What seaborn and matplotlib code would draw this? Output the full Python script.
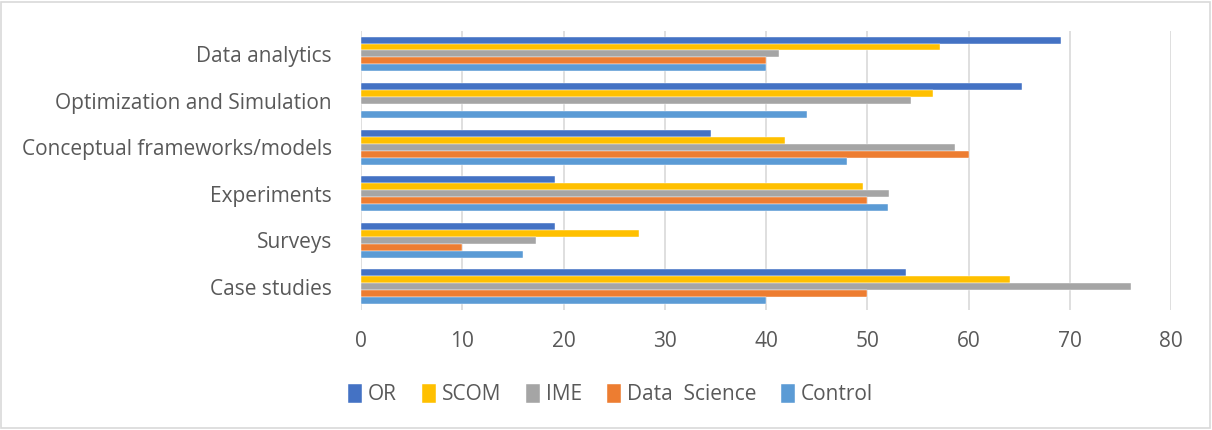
import matplotlib.pyplot as plt
from matplotlib.patches import Rectangle
import seaborn as sns
import pandas as pd
import numpy as np


categories = ['Data analytics', 'Optimization and Simulation', 'Conceptual frameworks/models',
              'Experiments', 'Surveys', 'Case studies']
series = ['OR', 'SCOM', 'IME', 'Data  Science', 'Control']

or_vals = [69.1, 65.3, 34.6, 19.2, 19.2, 53.8]
scom_vals = [57.2, 56.5, 41.9, 49.6, 27.5, 64.1]
ime_vals = [41.3, 54.3, 58.7, 52.1, 17.3, 76.0]
ds_vals = [40.0, np.nan, 60.0, 50.0, 10.0, 50.0]
control_vals = [40.0, 44.0, 48.0, 52.0, 16.0, 40.0]

colors = ['#4472C4', '#FFC000', '#A5A5A5', '#ED7D31', '#5B9BD5']
text_color = '#595959'


def make_df():
    rows = []
    for s, vals in zip(series, [or_vals, scom_vals, ime_vals, ds_vals, control_vals]):
        for c, v in zip(categories, vals):
            rows.append({'category': c, 'series': s, 'value': v})
    return pd.DataFrame(rows)


def bar_chart(df):
    sns.set_style('white')
    plt.rcParams['font.family'] = ['Open Sans', 'DejaVu Sans']

    fig = plt.figure(figsize=(12.12, 4.3), dpi=100)
    ax = fig.add_axes([0.2979, 0.279, 0.6683, 0.6496])

    sns.barplot(data=df, y='category', x='value', hue='series', order=categories,
                hue_order=series, palette=colors, saturation=1, orient='h', width=0.75,
                edgecolor='white', linewidth=0.3, ax=ax)

    ax.set_xlim(0, 80)
    ax.set_ylim(5.5, -0.5)
    ax.set_xticks(range(0, 81, 10))
    ax.grid(axis='x', color='#D9D9D9', linewidth=1.2)
    ax.set_axisbelow(True)
    for sp in ax.spines.values():
        sp.set_visible(False)
    ax.set_xlabel('')
    ax.set_ylabel('')
    ax.tick_params(axis='both', length=0, labelsize=15, colors=text_color)
    ax.tick_params(axis='x', pad=15)
    ax.tick_params(axis='y', pad=21)

    # legend centred on the whole figure, below the ticks
    handles, labels = ax.get_legend_handles_labels()
    ax.get_legend().remove()
    fig.legend(handles, labels, loc='center', bbox_to_anchor=(0.504, 0.082), ncol=5,
               frameon=False, fontsize=15, handlelength=0.65, handleheight=1.0,
               handletextpad=0.3, columnspacing=1.2, labelcolor=text_color)

    # chart border
    fig.patches.append(Rectangle((0.001, 0.004), 0.997, 0.992, transform=fig.transFigure,
                                 fill=False, edgecolor='#D9D9D9', linewidth=1.2))

    plt.savefig('out.png', dpi=100)


def main():
    df = make_df()
    bar_chart(df)


if __name__ == '__main__':
    main()
